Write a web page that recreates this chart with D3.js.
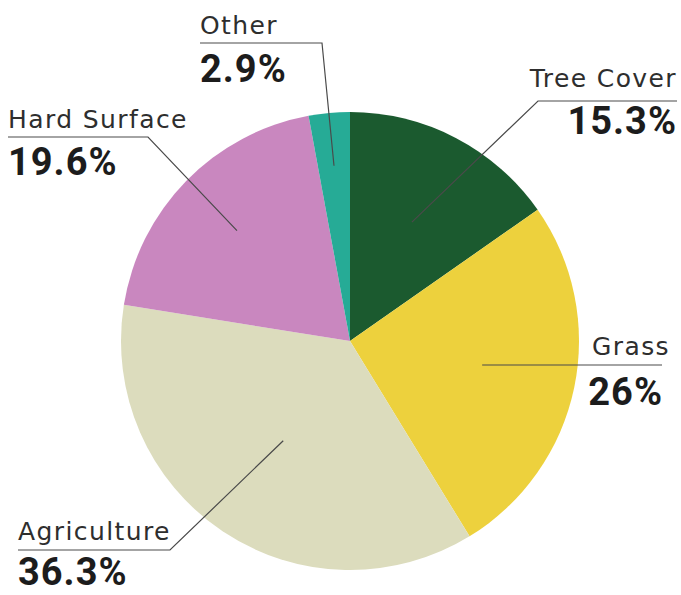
<!DOCTYPE html>
<html>
<head>
<meta charset="utf-8">
<script src="https://cdn.jsdelivr.net/npm/d3@7"></script>
<style>
  html, body { margin: 0; padding: 0; background: #fff; }
  svg { display: block; }
  .name { font-family: "DejaVu Sans", sans-serif; font-weight: 400; fill: #2e2e2e; font-size: 25px; letter-spacing: 1.4px; }
  .pct { font-family: Roboto, sans-serif; font-weight: 700; fill: #1c1c1c; font-size: 38px; letter-spacing: 1px; }
</style>
</head>
<body>
<div id="chart"></div>
<script>
// data
const categories = ['Tree Cover', 'Grass', 'Agriculture', 'Hard Surface', 'Other'];
const shares = [15.3, 26, 36.3, 19.6, 2.9];
const shareLabels = ['15.3%', '26%', '36.3%', '19.6%', '2.9%'];
const colors = ['#1b5a2f', '#edd13d', '#dcdcbd', '#c987bf', '#26ab96'];

const width = 681;
const height = 595;
const cx = 350;
const cy = 341;
const radius = 229;

// label layout: x, name baseline, underline y, line end x, pct baseline, leader radius
const layout = [
    { x: 677, nameY: 87, lineY: 101, lineX: 538, pctY: 134, anchor: 'end', r: 134 },
    { x: 670, nameY: 355, lineY: 365, lineX: 662, pctY: 405, anchor: 'end', r: 135, pctX: 663 },
    { x: 18, nameY: 540, lineY: 550, lineX: 170, pctY: 585, anchor: 'start', r: 120 },
    { x: 8, nameY: 128, lineY: 137, lineX: 148, pctY: 175, anchor: 'start', r: 158 },
    { x: 200, nameY: 34, lineY: 43, lineX: 322, pctY: 82, anchor: 'start', r: 176 }
];

const svg = d3.select('#chart').append('svg')
    .attr('width', width)
    .attr('height', height);

const pie = d3.pie().sort(null).value(d => d);
const arcs = pie(shares);
const arc = d3.arc().innerRadius(0).outerRadius(radius);

const g = svg.append('g').attr('transform', `translate(${cx},${cy})`);

g.selectAll('path.slice')
    .data(arcs)
    .join('path')
    .attr('class', 'slice')
    .attr('d', arc)
    .attr('fill', (d, i) => colors[i]);

// leader lines
arcs.forEach((a, i) => {
    const l = layout[i];
    const mid = (a.startAngle + a.endAngle) / 2;
    const p = d3.pointRadial(mid, l.r);
    const inner = [cx + p[0], cy + p[1]];
    let pts;
    if (i === 1) {
        // grass: straight horizontal line
        pts = [[inner[0], l.lineY], [l.lineX, l.lineY]];
    } else {
        pts = [inner, [l.lineX, l.lineY], [l.x, l.lineY]];
    }
    svg.append('path')
        .attr('d', d3.line()(pts))
        .attr('fill', 'none')
        .attr('stroke', '#4a4a4a')
        .attr('stroke-width', 1.2);
});

// labels
arcs.forEach((a, i) => {
    const l = layout[i];
    svg.append('text')
        .attr('class', 'name')
        .attr('x', l.x)
        .attr('y', l.nameY)
        .attr('text-anchor', l.anchor)
        .text(categories[i]);
    svg.append('text')
        .attr('class', 'pct')
        .attr('x', l.pctX || l.x)
        .attr('y', l.pctY)
        .attr('text-anchor', l.anchor)
        .text(shareLabels[i]);
});
</script>
</body>
</html>
